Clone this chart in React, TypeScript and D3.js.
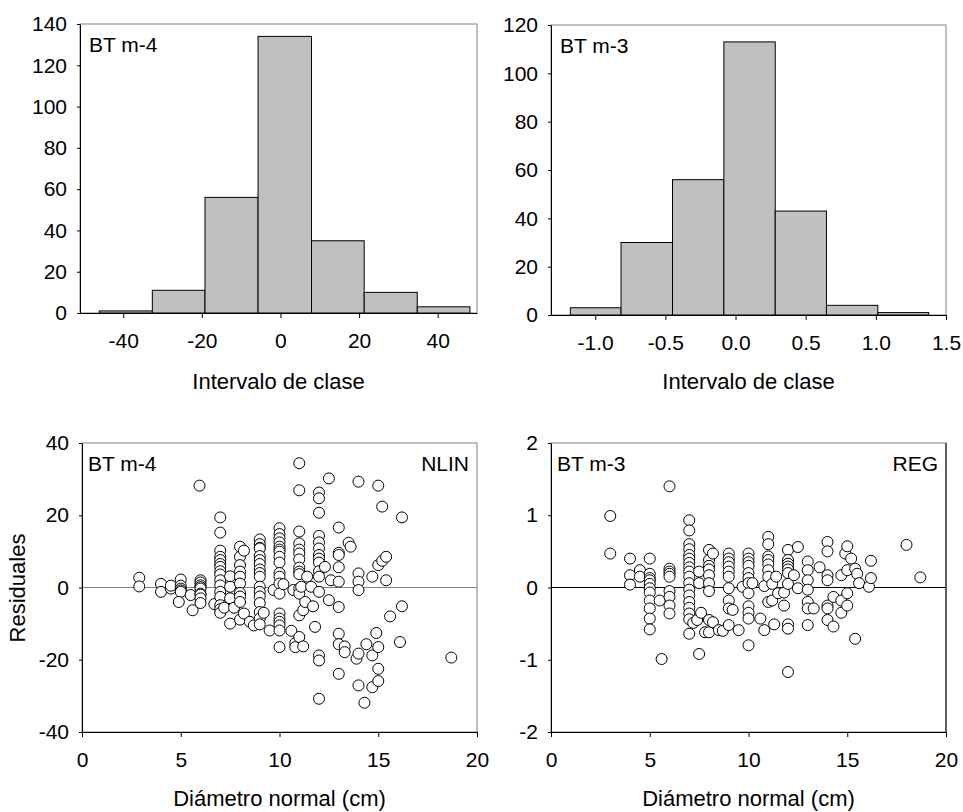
import * as d3 from 'd3';
import { useEffect, useRef } from 'react';

// histogram bins (class edges + counts)
const m4Edges = [-46.1, -32.6, -19.2, -5.7, 7.9, 21.3, 34.8, 48.2];
const m4Counts = [1, 11, 56, 134, 35, 10, 3];
const m3Edges = [-1.177, -0.816, -0.449, -0.083, 0.283, 0.648, 1.014, 1.377];
const m3Counts = [3, 30, 56, 113, 43, 4, 1];

const m4XTicks = [-40, -20, 0, 20, 40];
const m4YTicks = [0, 20, 40, 60, 80, 100, 120, 140];
const m3XTicks = [-1.0, -0.5, 0.0, 0.5, 1.0, 1.5];
const m3YTicks = [0, 20, 40, 60, 80, 100, 120];

const diamTicks = [0, 5, 10, 15, 20];
const nlinYTicks = [-40, -20, 0, 20, 40];
const regYTicks = [-2, -1, 0, 1, 2];

// residuals vs diameter, NLIN (BT m-4)
const nlinPoints: [number, number][] = [
  [2.9, 2.7], [2.9, 0.3], [4, 1], [4, -1.2], [4.5, -0.3], [4.5, 0.5],
  [5, 2.2], [5, 0.5], [5, -0.3], [5, -0.8], [5, -1.2], [4.9, -4], [5.5, -2.1], [5.6, -6.3],
  [6, 2], [6, 1.4], [6, 0.6], [6, 0.1], [6, -0.3], [6, -1.7], [6, -2], [6, -3], [6, -4.3], [5.95, 28.2],
  [6.7, -4.6],
  [7, 19.4], [7, 15.2], [7, 10.2], [7, 8.5], [7, 7.6], [7, 6.5], [7, 5.7], [7, 4.5], [7, 3.6], [7, 2],
  [7, 0.6], [7, -1.2], [7, -2.6], [7, -4.9], [7, -6], [7, -7], [7.2, -5.6],
  [7.5, 3.1], [7.5, 0.2], [7.5, -3], [7.5, -10], [7.7, -5.6],
  [8, 11.3], [8, 8.5], [8, 6.2], [8, 4.4], [8, 3], [8, 1.1], [8, -1.5], [8, -2.5], [8, -4], [8, -8.9],
  [8.2, 10.2], [8.2, -7.2], [8.5, -9.5], [8.7, -10.5],
  [9, 13.3], [9, 12], [9, 11], [9, 10.8], [9, 8.7], [9, 7.6], [9, 6.5], [9, 5], [9, 4], [9, 3], [9, 0.2],
  [9, -1.2], [9, -2.5], [9, -4.3], [9, -6.8], [9, -8.6], [9, -10.2], [9.2, -7], [9.5, -11.9], [9.7, -0.7],
  [10, 16.4], [10, 14.8], [10, 13.6], [10, 12.5], [10, 11.3], [10, 10.5], [10, 9.9], [10, 8.5], [10, 6.9],
  [10, 4], [10, 3], [10, 1.1], [10, -1.7], [10, -7.2], [10, -8.6], [10, -9.5], [10, -10.5], [10, -11.9],
  [10, -16.5], [10.2, 0.9], [10.6, -12], [10.7, -0.7], [10.8, -15.4], [10.8, -16.5],
  [11, 34.4], [11, 26.9], [11, 15.5], [11, 12.2], [11, 10.5], [11, 9.4], [11, 7.8], [11, 5.5], [11, 4.4],
  [11, 3.7], [11, -0.3], [11, -1.7], [11, -7.7], [11, -13.7], [11.1, 0.2], [11.2, -16.3], [11.2, -6.3],
  [11.3, -4], [11.4, 3], [11.6, 0.2], [11.7, -5.2], [11.8, -10.9],
  [12, 26.3], [12, 24.7], [12, 20.7], [12, 14.3], [12, 12.5], [12, 10.8], [12, 9], [12, 8], [12, 6.9],
  [12, 4.5], [12, 3], [12, -1.2], [12, -18.8], [12, -20.2], [12, -30.8], [12.3, 5.7], [12.5, 30.2],
  [12.5, -3.5], [12.6, 2],
  [13, 16.6], [13, 9.6], [13, 9], [13, 5.6], [13, 1.6], [13, -5.4], [13, -12.8], [13, -15.7],
  [13, -23.9], [13.3, -16.3], [13.3, -17.9], [13.5, 12.4], [13.6, 11.3],
  [14, 29.3], [14, 3.9], [14, 1.6], [14, -0.7], [14, -27.1], [13.9, -19.7], [14, -18.3],
  [14.3, -31.9], [14.4, -15.7], [14.7, 3], [14.7, -18.8], [14.7, -27.6], [14.9, -12.6],
  [15, 28.2], [15, 6.2], [15, -16.5], [15, -22.5], [15, -25.9], [15.2, 22.4], [15.2, 7.4],
  [15.4, 8.5], [15.4, 2], [15.6, -8], [16.1, -15.1], [16.2, 19.4], [16.2, -5.2],
  [18.7, -19.4],
];

// residuals vs diameter, REG (BT m-3)
const regPoints: [number, number][] = [
  [3, 0.99], [3, 0.47], [4, 0.4], [4, 0.17], [4, 0.04], [4.5, 0.24], [4.5, 0.15],
  [5, 0.4], [5, 0.19], [5, 0.13], [5, 0.1], [5, 0.05], [5, -0.01], [5, -0.07], [5, -0.18], [5, -0.29],
  [5, -0.43], [5, -0.58], [5.5, -0.18], [5.6, -0.99],
  [6, 1.4], [6, 0.26], [6, 0.22], [6, 0.19], [6, 0.15], [6, -0.05], [6, -0.13], [6, -0.25], [6, -0.36],
  [7, 0.93], [7, 0.79], [7, 0.6], [7, 0.53], [7, 0.45], [7, 0.4], [7, 0.34], [7, 0.28], [7, 0.22],
  [7, 0.15], [7, 0.06], [7, -0.03], [7, -0.11], [7, -0.2], [7, -0.28], [7, -0.36], [7, -0.44], [7, -0.64],
  [7.2, -0.49], [7.4, -0.45], [7.5, 0.22], [7.5, 0.06], [7.5, -0.92], [7.6, -0.35], [7.8, -0.62],
  [8, 0.52], [8, 0.38], [8, 0.3], [8, 0.25], [8, 0.17], [8, 0.06], [8, -0.05], [8, -0.45], [8, -0.62],
  [8.2, -0.48], [8.2, 0.47], [8.5, -0.59], [8.7, -0.6],
  [9, 0.47], [9, 0.4], [9, 0.35], [9, 0.29], [9, 0.22], [9, 0.15], [9, -0.01], [9, -0.18], [9, -0.29],
  [9, -0.52], [9.2, -0.31], [9.5, -0.59], [9.7, 0.01],
  [10, 0.47], [10, 0.4], [10, 0.35], [10, 0.3], [10, 0.2], [10, 0.13], [10, 0.06], [10, -0.08],
  [10, -0.26], [10, -0.35], [10, -0.43], [10, -0.8], [10.2, 0.06], [10.6, -0.43], [10.8, -0.59], [10.8, 0.02],
  [11, 0.7], [11, 0.6], [11, 0.43], [11, 0.38], [11, 0.32], [11, 0.24], [11, 0.15], [11, -0.2],
  [11.2, 0.05], [11.2, -0.18], [11.3, -0.51], [11.4, 0.15], [11.5, -0.08], [11.8, -0.25], [11.8, -0.07],
  [12, 0.52], [12, 0.38], [12, 0.33], [12, 0.29], [12, 0.25], [12, 0.2], [12, 0.05], [12, -0.51],
  [12, -0.57], [12, -1.17], [12.3, 0.17], [12.5, 0.56], [12.5, -0.01],
  [13, 0.36], [13, 0.24], [13, 0.1], [13, -0.03], [13, -0.2], [13, -0.29], [13, -0.52],
  [13.3, -0.29], [13.6, 0.28],
  [14, 0.63], [14, 0.5], [14, 0.17], [14, 0.1], [14, -0.25], [14, -0.29], [14, -0.45],
  [14.3, -0.54], [14.3, -0.13], [14.7, 0.17], [14.7, -0.18], [14.7, -0.35], [14.9, 0.47],
  [15, 0.57], [15, 0.24], [15, -0.08], [15, -0.25], [15.2, 0.4], [15.4, -0.71], [15.4, 0.26],
  [15.5, 0.19], [15.6, 0.06], [16.1, 0.01], [16.2, 0.37], [16.2, 0.13],
  [18, 0.59], [18.7, 0.14],
];

const FONT = '"Liberation Sans", Arial, Helvetica, sans-serif';
const fmt = (d) => String(d);
const fmt1 = (d) => d.toFixed(1);

const App = () => {
  const ref = useRef(null);

  useEffect(() => {
    const svg = d3.select(ref.current);
    svg.selectAll('*').remove();
    svg.style('font-family', FONT);

    const frame = (x, y, right, zeroColor?) => {
      const [x0, x1] = x.range();
      const [y0, y1] = y.range();
      svg
        .append('rect')
        .attr('x', x0)
        .attr('y', y1)
        .attr('width', x1 - x0)
        .attr('height', y0 - y1)
        .attr('fill', 'none')
        .attr('stroke', '#808080');
      if (right) {
        svg
          .append('line')
          .attr('x1', x1).attr('x2', x1)
          .attr('y1', y1).attr('y2', y0)
          .attr('stroke', right);
      }
      if (zeroColor) {
        svg
          .append('line')
          .attr('x1', x0).attr('x2', x1)
          .attr('y1', y(0)).attr('y2', y(0))
          .attr('stroke', zeroColor);
      }
    };

    const axes = (x, y, xTicks, yTicks, xFmt, yFmt) => {
      const y0 = y.range()[0];
      const xa = svg
        .append('g')
        .attr('transform', `translate(0, ${y0})`)
        .call(d3.axisBottom(x).tickValues(xTicks).tickFormat(xFmt).tickSize(5).tickSizeOuter(0).tickPadding(15));
      const ya = svg
        .append('g')
        .attr('transform', `translate(${x.range()[0]}, 0)`)
        .call(d3.axisLeft(y).tickValues(yTicks).tickFormat(yFmt).tickSize(3).tickSizeOuter(0).tickPadding(10));
      [xa, ya].forEach((a) => {
        a.selectAll('text').style('font-size', '21px').attr('fill', '#000').style('font-family', FONT);
        a.select('.domain').attr('stroke', '#000');
        a.selectAll('line').attr('stroke', '#000');
      });
    };

    const label = (txt, px, py, anchor = 'start', size = 21) => {
      svg
        .append('text')
        .attr('x', px)
        .attr('y', py)
        .attr('text-anchor', anchor)
        .style('font-size', `${size}px`)
        .text(txt);
    };

    const histogram = (edges, counts, xDom, yMax, box, xTicks, yTicks, xFmt, name) => {
      const x = d3.scaleLinear().domain(xDom).range([box.left, box.right]);
      const y = d3.scaleLinear().domain([0, yMax]).range([box.bottom, box.top]);
      frame(x, y, null);
      svg
        .append('g')
        .selectAll('rect')
        .data(counts)
        .enter()
        .append('rect')
        .attr('x', (d, i) => x(edges[i]))
        .attr('y', (d) => y(d))
        .attr('width', (d, i) => x(edges[i + 1]) - x(edges[i]))
        .attr('height', (d) => y(0) - y(d))
        .attr('fill', '#c0c0c0')
        .attr('stroke', '#000');
      axes(x, y, xTicks, yTicks, xFmt, fmt);
      label(name, box.left + 9, box.top + 28);
      label('Intervalo de clase', (box.left + box.right) / 2, 389, 'middle', 22);
    };

    const scatter = (pts, yDom, box, yTicks, name, tag, zeroColor, rightColor) => {
      const x = d3.scaleLinear().domain([0, 20]).range([box.left, box.right]);
      const y = d3.scaleLinear().domain(yDom).range([box.bottom, box.top]);
      frame(x, y, rightColor, zeroColor);
      svg
        .append('g')
        .selectAll('circle')
        .data(pts)
        .enter()
        .append('circle')
        .attr('cx', (d) => x(d[0]))
        .attr('cy', (d) => y(d[1]))
        .attr('r', 5.5)
        .attr('fill', '#fff')
        .attr('stroke', '#000');
      axes(x, y, diamTicks, yTicks, fmt, fmt);
      label(name, box.left + 6, box.top + 28);
      label(tag, box.right - 8, box.top + 28, 'end');
      label('Diámetro normal (cm)', (box.left + box.right) / 2, 806, 'middle', 22);
    };

    histogram(m4Edges, m4Counts, [-51, 50], 140,
      { left: 80, right: 477, top: 24, bottom: 313 }, m4XTicks, m4YTicks, fmt, 'BT m-4');
    histogram(m3Edges, m3Counts, [-1.315, 1.5], 120,
      { left: 551, right: 946, top: 25, bottom: 315 }, m3XTicks, m3YTicks, fmt1, 'BT m-3');
    scatter(nlinPoints, [-40, 40],
      { left: 82, right: 477, top: 443, bottom: 732 }, nlinYTicks, 'BT m-4', 'NLIN', '#808080', null);
    scatter(regPoints, [-2, 2],
      { left: 551, right: 946, top: 443, bottom: 732 }, regYTicks, 'BT m-3', 'REG', '#000', '#000');

    svg
      .append('text')
      .attr('transform', 'translate(25, 588) rotate(-90)')
      .attr('text-anchor', 'middle')
      .style('font-size', '22px')
      .text('Residuales');
  }, []);

  return (
    <div style={{ position: 'absolute', left: 0, top: 0 }}>
      <svg ref={ref} width={963} height={812} style={{ display: 'block', background: '#fff' }}></svg>
    </div>
  );
};

export default App;
